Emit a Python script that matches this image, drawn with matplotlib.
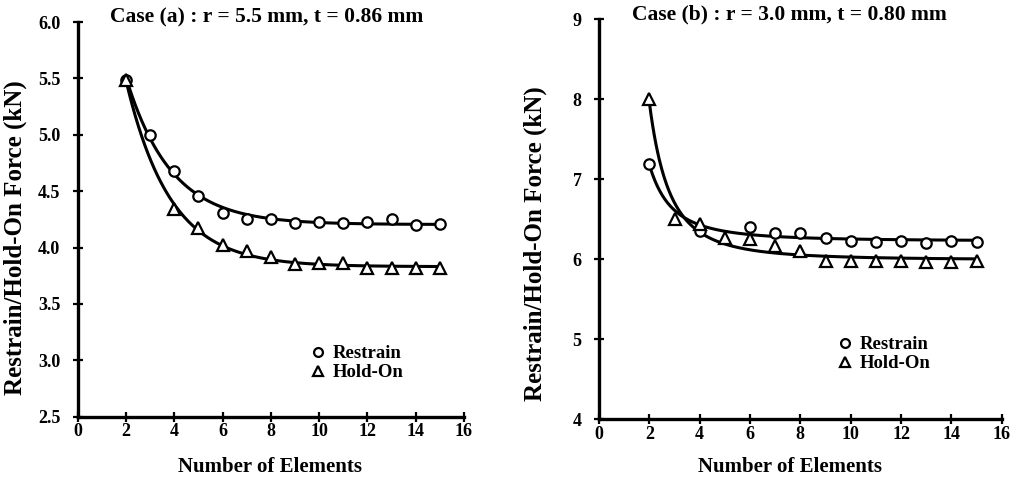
import numpy as np
import matplotlib
matplotlib.use("Agg")
import matplotlib.pyplot as plt

# ---------------- data ----------------
# Case (a)
a_restrain_x = [2, 3, 4, 5, 6, 7, 8, 9, 10, 11, 12, 13, 14, 15]
a_restrain_y = [5.49, 5.00, 4.68, 4.46, 4.31, 4.25, 4.25, 4.22, 4.23, 4.22, 4.23, 4.25, 4.20, 4.21]
a_holdon_x = [2, 4, 5, 6, 7, 8, 9, 10, 11, 12, 13, 14, 15]
a_holdon_y = [5.49, 4.34, 4.17, 4.02, 3.97, 3.92, 3.85, 3.86, 3.86, 3.82, 3.82, 3.82, 3.82]
# Case (b)
b_restrain_x = [2, 4, 6, 7, 8, 9, 10, 11, 12, 13, 14, 15]
b_restrain_y = [7.19, 6.35, 6.40, 6.33, 6.33, 6.27, 6.23, 6.22, 6.23, 6.21, 6.23, 6.22]
b_holdon_x = [2, 3, 4, 5, 6, 7, 8, 9, 10, 11, 12, 13, 14, 15]
b_holdon_y = [8.00, 6.51, 6.44, 6.27, 6.25, 6.17, 6.10, 5.98, 5.98, 5.98, 5.98, 5.97, 5.97, 5.98]

titles = ["Case (a) : r = 5.5 mm, t = 0.86 mm", "Case (b) : r = 3.0 mm, t = 0.80 mm"]
ylims = [(2.5, 6.0), (4, 9)]
yticks = [[2.5, 3.0, 3.5, 4.0, 4.5, 5.0, 5.5, 6.0], [4, 5, 6, 7, 8, 9]]
ytick_labels = [["2.5", "3.0", "3.5", "4.0", "4.5", "5.0", "5.5", "6.0"], ["4", "5", "6", "7", "8", "9"]]
xticks = [0, 2, 4, 6, 8, 10, 12, 14, 16]


def fit_curve(x, y, kind):
    x = np.asarray(x, float)
    y = np.asarray(y, float)
    best = None
    if kind == "exp":
        params = np.linspace(0.05, 3.0, 600)
        g = lambda xx, c: np.exp(-c * (xx - 2.0))
    else:
        params = np.linspace(0.2, 8.0, 800)
        g = lambda xx, p: xx ** (-p)
    for prm in params:
        A = np.column_stack([np.ones_like(x), g(x, prm)])
        coef, *_ = np.linalg.lstsq(A, y, rcond=None)
        r = np.sum((A @ coef - y) ** 2)
        if best is None or r < best[0]:
            best = (r, prm, coef)
    _, prm, coef = best
    return lambda xx: coef[0] + coef[1] * g(xx, prm)


font = "Liberation Serif"
plt.rcParams["font.family"] = [font, "DejaVu Serif"]
plt.rcParams["font.weight"] = "bold"

fig = plt.figure(figsize=(10.18, 4.79), dpi=100)
axes = [fig.add_axes([0.0763, 0.130, 0.3795, 0.824]),
        fig.add_axes([0.5884, 0.1246, 0.3956, 0.835])]

datasets = [
    (a_restrain_x, a_restrain_y, a_holdon_x, a_holdon_y, "exp"),
    (b_restrain_x, b_restrain_y, b_holdon_x, b_holdon_y, "pow"),
]
ylabel_xy = [(-0.131, 0.453), (-0.129, 0.44)]
xlabel_xy = [(0.498, -0.102), (0.475, -0.094)]
title_dy = [5 / 395, 5 / 400]
legend_anchor = [(0.607, 0.136), (0.597, 0.163)]

for i, ax in enumerate(axes):
    rx, ry, hx, hy, kind = datasets[i]
    xs = np.linspace(2, 15, 400)
    ax.plot(xs, fit_curve(rx, ry, kind)(xs), color="black", lw=2.2, zorder=2)
    ax.plot(xs, fit_curve(hx, hy, kind)(xs), color="black", lw=2.2, zorder=2)
    ax.plot(rx, ry, linestyle="none", marker="o", ms=7.5, mfc="white", mec="black", mew=1.6,
            label="Restrain", zorder=3)
    ax.plot(hx, hy, linestyle="none", marker="^", ms=8, mfc="white", mec="black", mew=1.6,
            label="Hold-On", zorder=3)
    ax.set_xlim(0, 16)
    ax.set_ylim(*ylims[i])
    ax.set_xticks(xticks)
    ax.set_xticklabels([str(t) for t in xticks], fontsize=13, fontweight="bold")
    ax.set_yticks(yticks[i])
    ax.set_yticklabels(ytick_labels[i], fontsize=13, fontweight="bold")
    ax.tick_params(direction="inout", length=7, width=1.6)
    ax.tick_params(axis="x", pad=1)
    ax.tick_params(axis="y", pad=9)
    for s in ["top", "right"]:
        ax.spines[s].set_visible(False)
    for s in ["left", "bottom"]:
        ax.spines[s].set_linewidth(2.4)
    ax.set_xlabel("Number of Elements", fontsize=15, fontweight="bold")
    ax.xaxis.set_label_coords(*xlabel_xy[i])
    ax.set_ylabel("Restrain/Hold-On Force (kN)", fontsize=18, fontweight="bold")
    ax.yaxis.set_label_coords(*ylabel_xy[i])
    ax.text(0.083, 1.0 + title_dy[i], titles[i], transform=ax.transAxes, fontsize=15.5,
            fontweight="bold", ha="left", va="center")
    leg = ax.legend(loc="center left", bbox_to_anchor=legend_anchor[i],
                    frameon=False, fontsize=13.5, handlelength=0.6, handletextpad=0.5,
                    labelspacing=0.1, borderaxespad=0, borderpad=0, markerscale=0.85)
    for t in leg.get_texts():
        t.set_fontweight("bold")

fig.savefig("out.png", dpi=100)
